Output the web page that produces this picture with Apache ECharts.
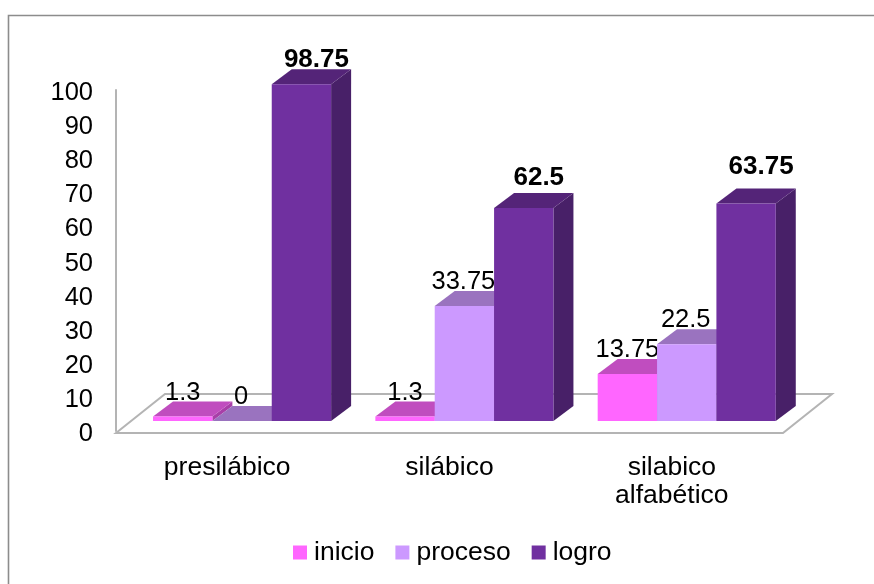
<!DOCTYPE html>
<html><head><meta charset="utf-8">
<style>html,body{margin:0;padding:0;background:#fff}#c{width:874px;height:584px}</style>
<script src="https://cdn.jsdelivr.net/npm/echarts@6/dist/echarts.min.js"></script>
</head><body><div id="c"></div>
<script>
const categories = ['presilábico', 'silábico', 'silabico\nalfabético'];
const inicio = [1.3, 1.3, 13.75];
const proceso = [0, 33.75, 22.5];
const logro = [98.75, 62.5, 63.75];
const yTicks = {min: 0, max: 100, interval: 10};

const FONT = '"Liberation Sans", Arial, sans-serif';
const palette = {
  inicio: {front: '#FF66FF', top: '#C04DBF', side: '#A83FA8'},
  proceso: {front: '#CC99FF', top: '#9A73BF', side: '#8F6BB3'},
  logro: {front: '#7030A0', top: '#542478', side: '#482068'}
};
const DX = 20, DY = 15, LIFT = 10;

function barSeries(name, values, idx, colors, bold, labelLifts, labelShift) {
  return {
    name, type: 'custom', z: 3 + idx,
    itemStyle: {color: colors.front},
    encode: {x: 0, y: 1},
    data: values.map((v, i) => [i, v]),
    renderItem(params, api) {
      const band = api.size([1, 0])[0];
      const c = api.coord([api.value(0), api.value(1)]);
      const base = api.coord([api.value(0), 0]);
      const w = band * 0.267;
      const x1 = c[0] + band * (-0.2 + 0.267 * idx) - w / 2, x2 = x1 + w;
      const top = c[1] - LIFT, bot = base[1] - LIFT;
      const poly = (points, fill) => ({type: 'polygon', shape: {points}, style: {fill}});
      return {type: 'group', children: [
        poly([[x2, top], [x2 + DX, top - DY], [x2 + DX, bot - DY], [x2, bot]], colors.side),
        poly([[x1, top], [x1 + DX, top - DY], [x2 + DX, top - DY], [x2, top]], colors.top),
        poly([[x1, bot], [x2, bot], [x2, top], [x1, top]], colors.front),
        {type: 'text', z2: 50, style: {
          text: String(api.value(1)), x: (x1 + x2) / 2 + labelShift, y: top - labelLifts[params.dataIndex],
          align: 'center', verticalAlign: 'middle', fill: '#000',
          font: (bold ? 'bold 26px ' : '25.5px ') + FONT
        }}
      ]};
    }
  };
}

const floor = {
  name: 'floor', type: 'custom', z: 1, silent: true, data: [[0, 0]], encode: {x: 0, y: 1},
  renderItem(params, api) {
    const cs = params.coordSys, y = api.coord([0, 0])[1] + 2;
    const l = cs.x, r = cs.x + cs.width, dx = 49, dy = 39;
    return {type: 'polygon', shape: {points: [[l, y], [l + dx, y - dy], [r + dx, y - dy], [r, y]]},
      style: {fill: '#fff', stroke: '#b4b4b4', lineWidth: 2}};
  }
};

const chart = echarts.init(document.getElementById('c'), null, {renderer: 'canvas'});
chart.setOption({
  animation: false,
  backgroundColor: '#fff',
  grid: {left: 116, width: 667, top: 90, height: 341, containLabel: false},
  legend: {
    data: ['inicio', 'proceso', 'logro'], left: 288, top: 534, itemWidth: 14, itemHeight: 14, itemGap: 21,
    icon: 'rect',
    textStyle: {fontFamily: FONT, fontSize: 26.5, color: '#000', padding: [2, 0, 0, 2]}
  },
  xAxis: {
    type: 'category', data: categories, boundaryGap: true,
    axisLine: {show: false}, axisTick: {show: false}, splitLine: {show: false},
    axisLabel: {fontFamily: FONT, fontSize: 26.5, color: '#000', margin: 23, lineHeight: 28, interval: 0}
  },
  yAxis: {
    type: 'value', min: yTicks.min, max: yTicks.max, interval: yTicks.interval,
    axisLine: {show: true, lineStyle: {color: '#b4b4b4', width: 2}},
    axisTick: {show: false}, splitLine: {show: false},
    axisLabel: {fontFamily: FONT, fontSize: 25.5, color: '#000', margin: 23, verticalAlign: 'top', lineHeight: 6}
  },
  graphic: [{type: 'polyline', silent: true,
    shape: {points: [[8.5, 584], [8.5, 15.5], [874, 15.5]]},
    style: {fill: null, stroke: '#8c8c8c', lineWidth: 1.6}}],
  series: [
    floor,
    barSeries('inicio', inicio, 0, palette.inicio, false, [24, 24, 24], 0),
    barSeries('proceso', proceso, 1, palette.proceso, false, [24, 24, 24], -1),
    barSeries('logro', logro, 2, palette.logro, true, [24, 30, 37], 15)
  ]
});
</script></body></html>
